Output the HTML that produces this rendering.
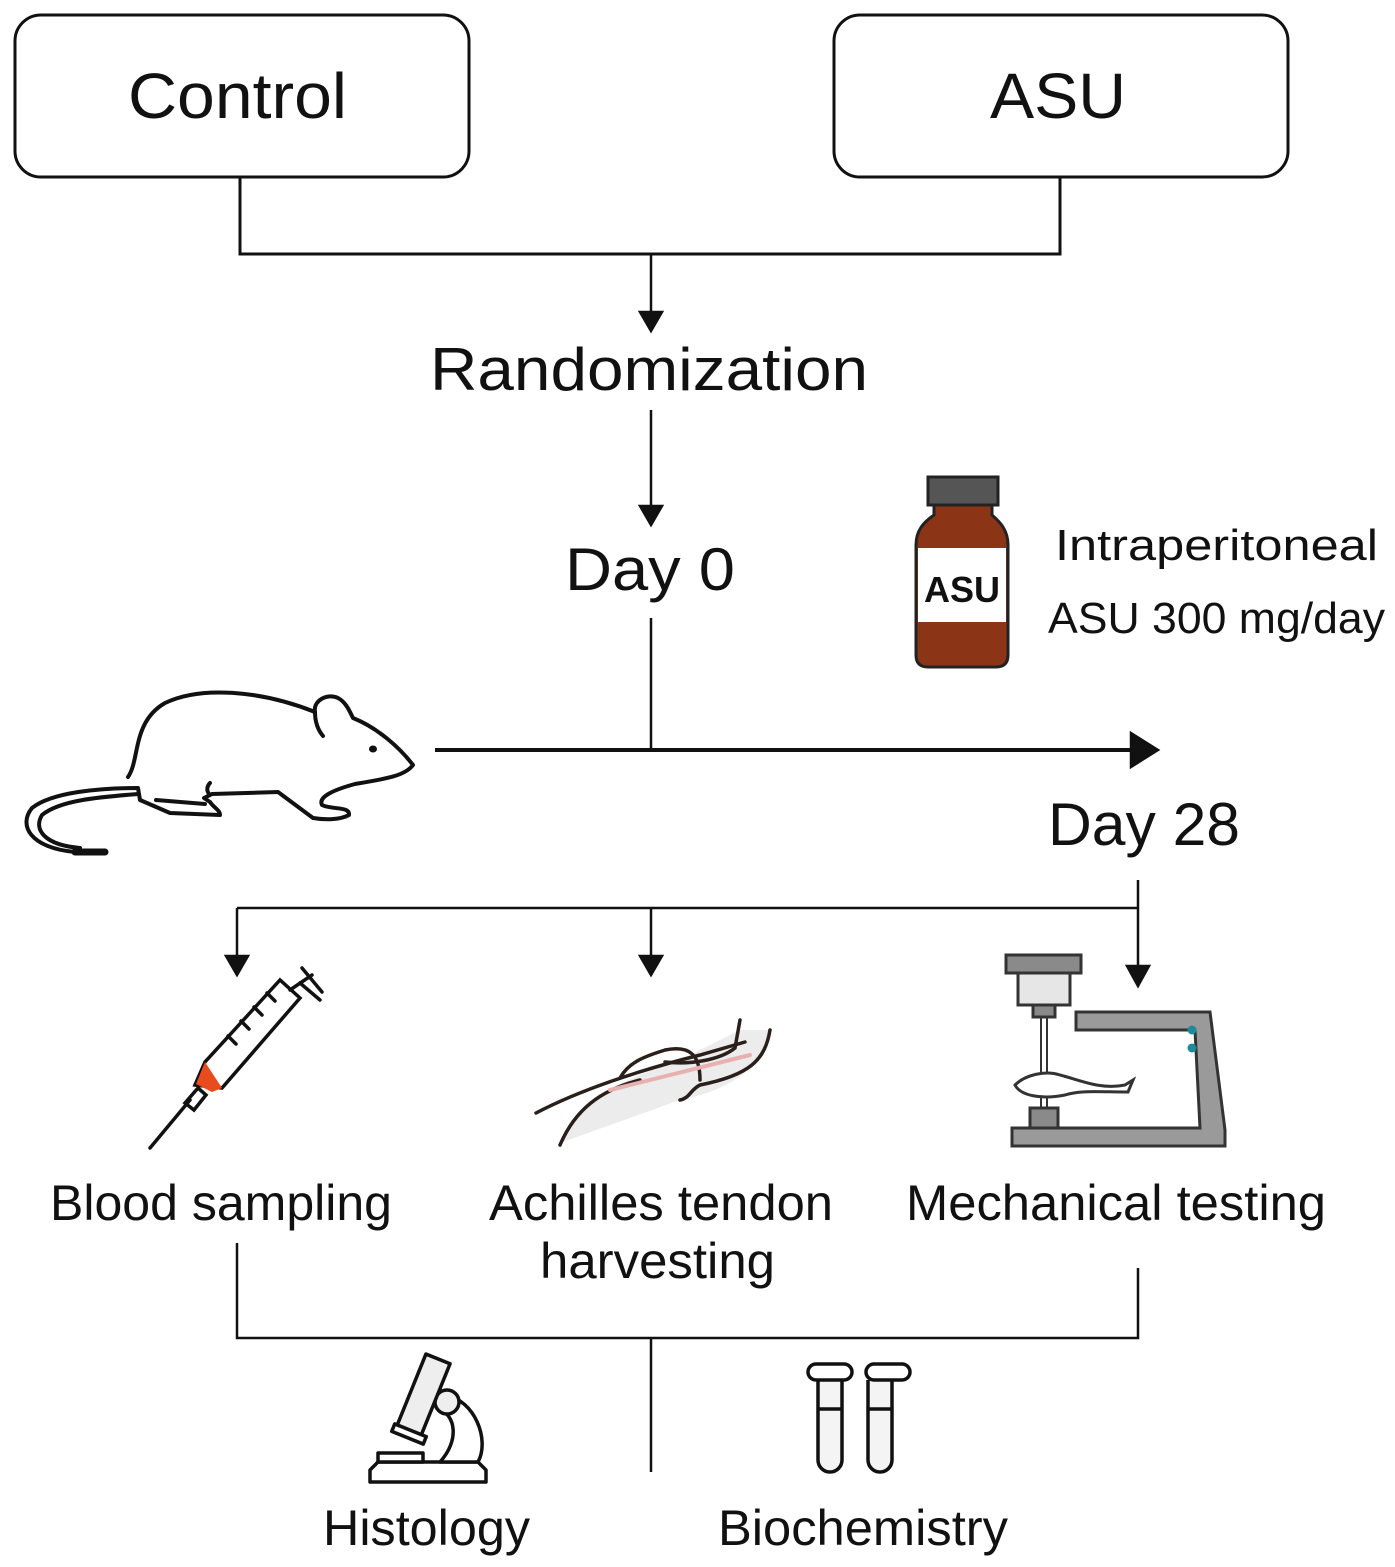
<!DOCTYPE html>
<html><head><meta charset="utf-8"><style>
html,body{margin:0;padding:0;background:#fff;}
svg{display:block;}
text{font-family:"Liberation Sans",sans-serif;fill:#111;}
</style></head><body>
<svg width="1395" height="1567" viewBox="0 0 1395 1567" xmlns="http://www.w3.org/2000/svg">
<g fill="none" stroke="#111" stroke-width="3">
<rect x="15" y="15" width="454" height="162" rx="26"/>
<rect x="834" y="15" width="454" height="162" rx="26"/>
<polyline points="240,177 240,254 1060,254 1060,177"/>
</g>
<text x="128" y="118" font-size="64" textLength="219" lengthAdjust="spacingAndGlyphs">Control</text>
<text x="990" y="118" font-size="64" textLength="136" lengthAdjust="spacingAndGlyphs">ASU</text>
<g stroke="#111" stroke-width="2.5" fill="#111">
<line x1="651" y1="254" x2="651" y2="314"/>
<path d="M640,312 L662,312 L651,331 z"/>
<line x1="651" y1="410" x2="651" y2="508"/>
<path d="M640,506 L662,506 L651,525 z"/>
<line x1="651" y1="618" x2="651" y2="750"/>
<line x1="435" y1="750" x2="1135" y2="750" stroke-width="4"/>
<path d="M1131,733 L1158,750 L1131,767 z"/>
<line x1="1138" y1="880" x2="1138" y2="968"/>
<line x1="237" y1="908" x2="1138" y2="908"/>
<line x1="237" y1="908" x2="237" y2="958"/>
<path d="M226,956 L248,956 L237,975 z"/>
<line x1="651" y1="908" x2="651" y2="958"/>
<path d="M640,956 L662,956 L651,975 z"/>
<path d="M1127,966 L1149,966 L1138,986 z"/>
<polyline fill="none" points="237,1243 237,1338 1138,1338 1138,1268"/>
<line x1="651" y1="1338" x2="651" y2="1472"/>
</g>
<text x="430" y="390" font-size="60" textLength="438" lengthAdjust="spacingAndGlyphs">Randomization</text>
<text x="565" y="590" font-size="60" textLength="170" lengthAdjust="spacingAndGlyphs">Day 0</text>
<text x="1048" y="845" font-size="60" textLength="192" lengthAdjust="spacingAndGlyphs">Day 28</text>
<text x="1055" y="560" font-size="44" textLength="323" lengthAdjust="spacingAndGlyphs">Intraperitoneal</text>
<text x="1048" y="633" font-size="44" textLength="337" lengthAdjust="spacingAndGlyphs">ASU 300 mg/day</text>
<rect x="928" y="477" width="70" height="28" fill="#555" stroke="#222" stroke-width="3"/>
<path d="M934,505 L992,505 L992,515 C1000,522 1008,530 1008,545 L1008,655 Q1008,667 996,667 L928,667 Q916,667 916,655 L916,545 C916,530 924,522 934,515 z" fill="#8b3516" stroke="#222" stroke-width="3"/>
<rect x="918" y="548" width="88" height="74" fill="#fff"/>
<text x="962" y="602" font-size="36" font-weight="bold" text-anchor="middle" textLength="76" lengthAdjust="spacingAndGlyphs">ASU</text>
<g fill="none" stroke="#111" stroke-width="4" stroke-linejoin="round" stroke-linecap="round">
<path d="M128,777 C140,760 132,722 165,703 C200,686 260,690 315,712 C313,700 328,693 338,698 C346,702 350,712 353,718 C378,728 400,748 413,765 C405,776 385,779 355,784 C333,790 318,797 322,805 C332,810 350,806 349,815 C340,820 325,820 313,818 L278,792 L212,794 L204,798 L210,802 C214,808 220,810 220,815 L170,813 L140,800 L138,788 C100,788 52,792 32,808 C18,825 30,848 75,852"/>
<path d="M138,794 C100,797 60,800 42,815 C33,830 45,845 80,848"/>
<path d="M75,852 L105,852" stroke-width="7"/>
<path d="M315,712 C315,722 318,730 323,736"/>
<path d="M210,795 C205,790 208,785 210,783"/>
<path d="M156,800 L205,804"/>
</g>
<ellipse cx="373" cy="749" rx="4" ry="3.5" fill="#111"/>
<g stroke="#111" stroke-width="3.5" fill="none" stroke-linecap="round">
<line x1="150" y1="1148" x2="190" y2="1100"/>
<path d="M185,1103 L198,1088 L206,1095 L194,1110 z"/>
<path d="M195,1085 L205,1062 L280,980 L300,998 L222,1088 z" fill="#fff"/>
<path d="M205,1062 L222,1088 L212,1092 L196,1084 z" fill="#e84b1c" stroke="none"/>
<line x1="290" y1="990" x2="312" y2="975"/>
<line x1="302" y1="968" x2="322" y2="992"/>
<line x1="300" y1="983" x2="320" y2="1000"/>
<line x1="228" y1="1036" x2="236" y2="1044"/>
<line x1="241" y1="1021" x2="249" y2="1029"/>
<line x1="254" y1="1007" x2="262" y2="1015"/>
<line x1="267" y1="993" x2="275" y2="1001"/>
</g>
<path d="M560,1143 C580,1100 620,1080 680,1060 L740,1030 L770,1030 C760,1070 730,1090 680,1100" fill="#ececec" stroke="none"/>
<g stroke="#2a1f1a" stroke-width="3.5" fill="none" stroke-linecap="round">
<path d="M536,1113 C580,1090 640,1070 700,1055 L745,1042"/>
<path d="M560,1145 C575,1110 600,1090 640,1080"/>
<path d="M740,1020 L735,1048 C720,1060 690,1065 665,1062"/>
<path d="M770,1030 C765,1060 750,1075 700,1085 C690,1090 690,1098 680,1100"/>
<path d="M620,1078 C630,1060 650,1055 665,1050 C690,1045 700,1055 700,1080"/>
<path d="M610,1090 L750,1055" stroke="#e8b0b0" stroke-width="4"/>
</g>
<g stroke="#333" stroke-width="3">
<rect x="1006" y="955" width="75" height="18" fill="#8a8a8a"/>
<rect x="1018" y="973" width="52" height="32" fill="#e6e6e6"/>
<rect x="1033" y="1005" width="22" height="12" fill="#8a8a8a"/>
<line x1="1041" y1="1017" x2="1041" y2="1110" stroke-width="2"/>
<line x1="1047" y1="1017" x2="1047" y2="1110" stroke-width="2"/>
<path d="M1076,1012 L1210,1012 L1225,1130 L1225,1146 L1012,1146 L1012,1128 L1200,1128 L1195,1030 L1076,1030 z" fill="#9a9a9a"/>
<rect x="1030" y="1108" width="28" height="20" fill="#8a8a8a"/>
<path d="M1015,1085 C1025,1075 1045,1070 1060,1075 C1080,1080 1100,1090 1125,1085 L1133,1080 L1128,1092 C1100,1092 1080,1090 1065,1095 C1040,1100 1020,1095 1015,1085 z" fill="#fff"/>
</g>
<circle cx="1192" cy="1030" r="4.5" fill="#1f8a99"/>
<circle cx="1192" cy="1048" r="4.5" fill="#1f8a99"/>
<text x="50" y="1220" font-size="50" textLength="342" lengthAdjust="spacingAndGlyphs">Blood sampling</text>
<text x="489" y="1220" font-size="50" textLength="344" lengthAdjust="spacingAndGlyphs">Achilles tendon</text>
<text x="540" y="1278" font-size="50" textLength="235" lengthAdjust="spacingAndGlyphs">harvesting</text>
<text x="906" y="1220" font-size="50" textLength="420" lengthAdjust="spacingAndGlyphs">Mechanical testing</text>
<g stroke="#111" stroke-width="3.5" fill="#fff" stroke-linejoin="round">
<path d="M370,1482 L370,1470 L378,1462 L478,1462 L486,1470 L486,1482 z"/>
<rect x="378" y="1453" width="45" height="9"/>
<path d="M445,1395 C475,1400 490,1440 478,1462 L440,1462 C460,1440 455,1415 440,1410 z"/>
<circle cx="447" cy="1402" r="12" fill="#eee"/>
<rect x="410" y="1356" width="26" height="80" transform="rotate(22 423 1396)" fill="#eee"/>
<rect x="392" y="1430" width="34" height="8" transform="rotate(22 409 1434)"/>
</g>
<g stroke="#111" stroke-width="3.5" fill="#f4f4f4">
<path d="M818,1380 L818,1460 A12,12 0 0 0 842,1460 L842,1380"/>
<path d="M868,1380 L868,1460 A12,12 0 0 0 892,1460 L892,1380"/>
<rect x="808" y="1364" width="44" height="16" rx="8" fill="#fff"/>
<rect x="866" y="1364" width="44" height="16" rx="8" fill="#fff"/>
<line x1="818" y1="1409" x2="842" y2="1409"/>
<line x1="868" y1="1409" x2="892" y2="1409"/>
</g>
<text x="323" y="1545" font-size="50" textLength="207" lengthAdjust="spacingAndGlyphs">Histology</text>
<text x="718" y="1545" font-size="50" textLength="290" lengthAdjust="spacingAndGlyphs">Biochemistry</text>
</svg>
</body></html>
